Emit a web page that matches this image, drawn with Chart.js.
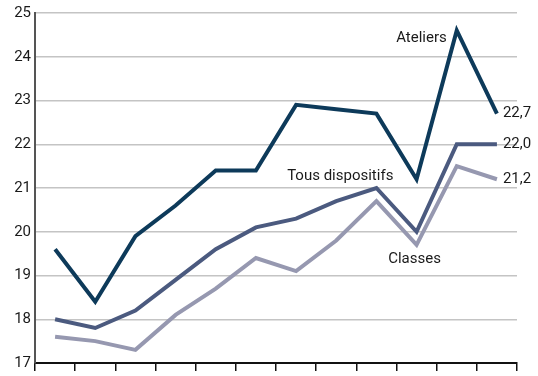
<!DOCTYPE html>
<html lang="fr">
<head>
    <meta charset="UTF-8">
    <script src="https://cdn.jsdelivr.net/npm/chart.js"></script>
    <style>
        body { margin: 0; padding: 0; background: white; }
        #wrap { width: 538px; height: 376px; }
    </style>
</head>
<body>
    <div id="wrap"><canvas id="effectifs"></canvas></div>
    <script>
        const annees = ['1', '2', '3', '4', '5', '6', '7', '8', '9', '10', '11', '12'];
        const ateliers = [19.6, 18.4, 19.9, 20.6, 21.4, 21.4, 22.9, 22.8, 22.7, 21.2, 24.6, 22.7];
        const tousDispositifs = [18.0, 17.8, 18.2, 18.9, 19.6, 20.1, 20.3, 20.7, 21.0, 20.0, 22.0, 22.0];
        const classes = [17.6, 17.5, 17.3, 18.1, 18.7, 19.4, 19.1, 19.8, 20.7, 19.7, 21.5, 21.2];

        const police = '"Liberation Sans Narrow", "Roboto", sans-serif';

        // noms des séries et valeurs finales écrits directement sur le graphique
        const etiquettes = {
            id: 'etiquettes',
            afterDatasetsDraw(chart) {
                const ctx = chart.ctx;
                const x = chart.scales.x, y = chart.scales.y;
                const fin = annees.length - 1;
                ctx.save();
                ctx.fillStyle = '#1a1a1a';
                ctx.font = '15px ' + police;
                ctx.textBaseline = 'middle';
                ctx.textAlign = 'left';
                [ateliers, tousDispositifs, classes].forEach(serie => {
                    ctx.fillText(serie[fin].toFixed(1).replace('.', ','), x.getPixelForValue(fin) + 6, y.getPixelForValue(serie[fin]));
                });
                ctx.textAlign = 'right';
                ctx.fillText('Ateliers', x.getPixelForValue(10) - 10, y.getPixelForValue(24.43));
                ctx.textAlign = 'center';
                ctx.fillText('Tous dispositifs', x.getPixelForValue(7) + 4, y.getPixelForValue(21.28));
                ctx.fillText('Classes', x.getPixelForValue(9) - 2, y.getPixelForValue(19.38));
                ctx.restore();
            }
        };

        new Chart(document.getElementById('effectifs'), {
            type: 'line',
            data: {
                labels: annees,
                datasets: [
                    { label: 'Ateliers', data: ateliers, borderColor: '#0d3a5a' },
                    { label: 'Tous dispositifs', data: tousDispositifs, borderColor: '#4b5a7f' },
                    { label: 'Classes', data: classes, borderColor: '#9698b0' }
                ]
            },
            options: {
                responsive: true,
                maintainAspectRatio: false,
                animation: false,
                elements: {
                    line: { borderWidth: 4, tension: 0, borderJoinStyle: 'miter' },
                    point: { radius: 0 }
                },
                layout: { padding: { top: 11, right: 21, left: 0, bottom: 4 } },
                plugins: { legend: { display: false }, tooltip: { enabled: false } },
                scales: {
                    x: {
                        offset: true,
                        grid: { offset: true, drawOnChartArea: false, tickLength: 8, color: '#111', lineWidth: 1.5 },
                        border: { color: '#111', width: 2 },
                        ticks: { display: false }
                    },
                    y: {
                        min: 17,
                        max: 25,
                        ticks: { stepSize: 1, color: '#1a1a1a', font: { family: police, size: 15 }, padding: 4 },
                        grid: { color: '#c4c4c4', lineWidth: 1.5, drawTicks: false },
                        border: { color: '#555', width: 2 },
                        afterFit(scale) { scale.width = 35; }
                    }
                }
            },
            plugins: [etiquettes]
        });
    </script>
</body>
</html>
